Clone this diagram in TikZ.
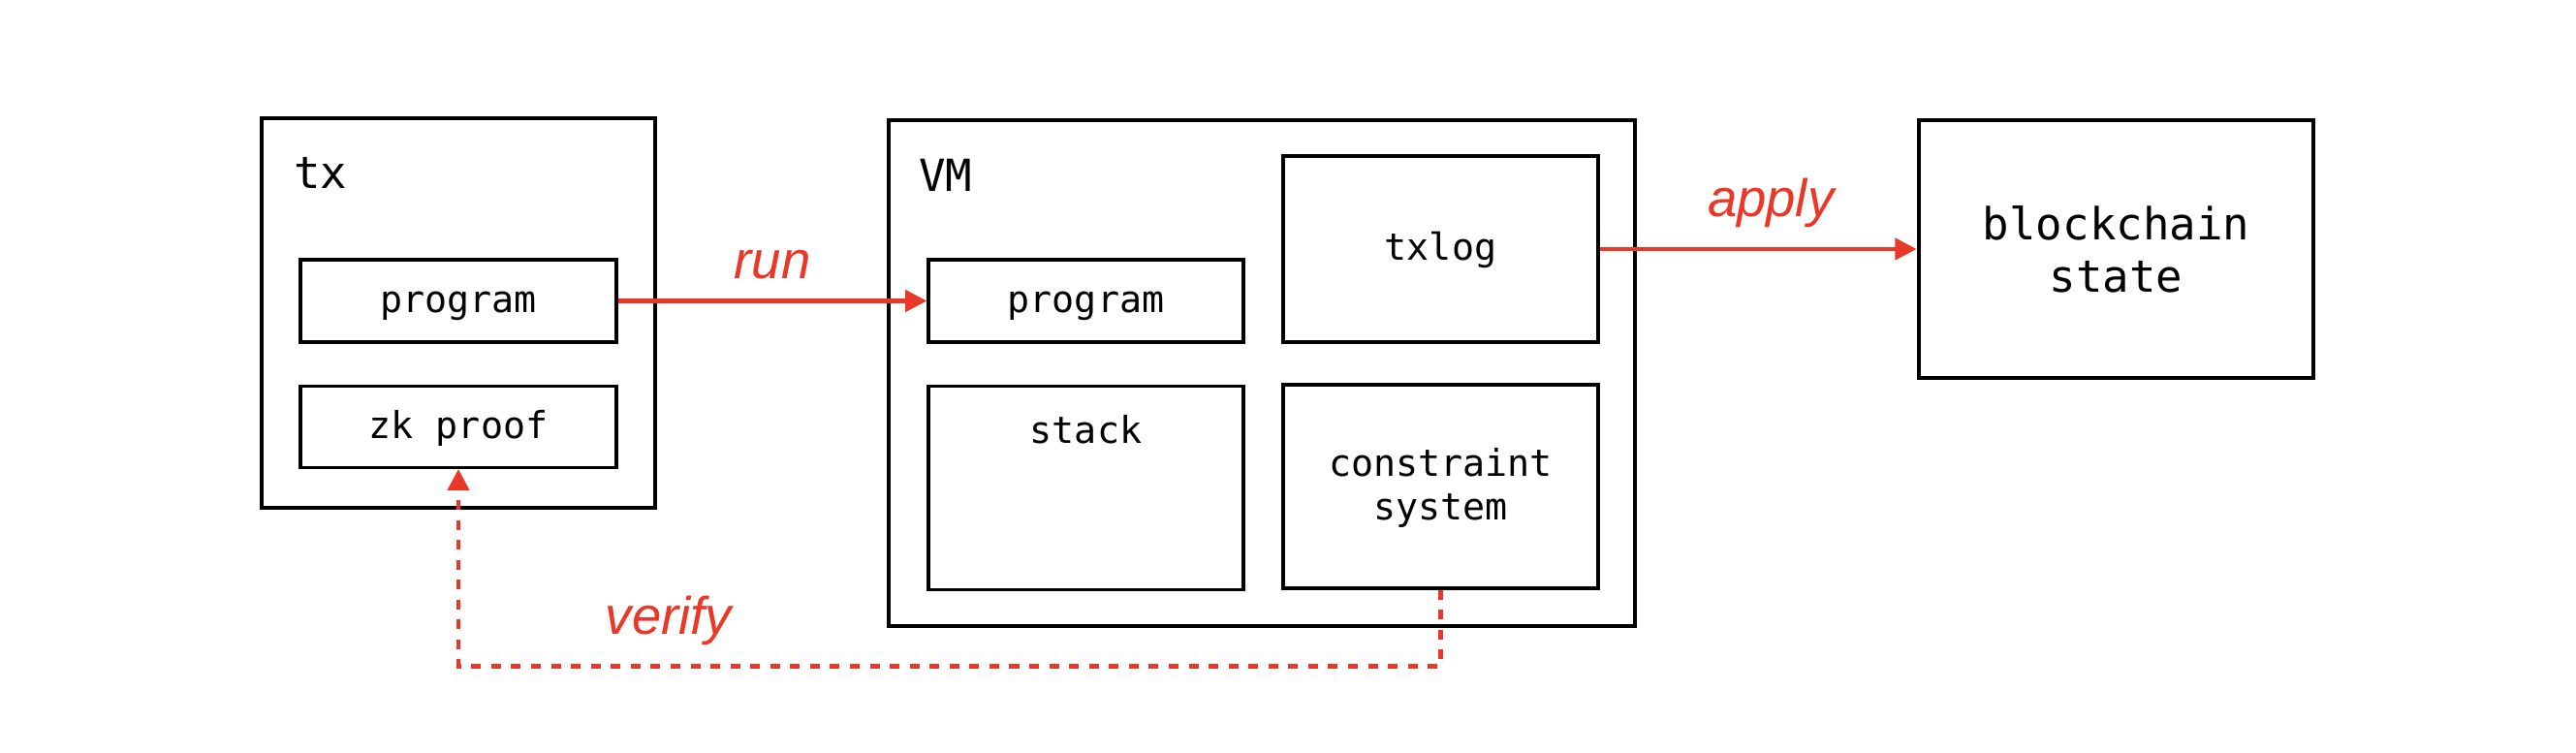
\documentclass[tikz,border=0pt]{standalone}
\usepackage{fontspec}
\setmainfont{Liberation Sans}
\setmonofont{DejaVu Sans Mono}
\usetikzlibrary{arrows.meta,positioning}
\definecolor{flowred}{RGB}{234,56,40}

\begin{document}
\begin{tikzpicture}[
    outer/.style={draw, line width=1.4pt, inner sep=0pt},
    inner/.style={draw, line width=0.95pt, inner sep=0pt, align=center,
      text height=0.86em, text depth=0.18em,
      font=\ttfamily\fontsize{10.9}{12.8}\selectfont},
    title/.style={inner sep=0pt, align=center,
      font=\ttfamily\fontsize{13}{15.3}\selectfont},
    flow/.style={draw=flowred, line width=1.15pt,
      -{Triangle[length=6.3pt, width=6.3pt]}},
    flowlabel/.style={inner sep=0pt, text=flowred,
      font=\itshape\fontsize{15.5}{18}\selectfont}
  ]

   \useasboundingbox (0,0) rectangle (26.58,7.76);

   % outer boxes
   \node[outer, minimum width=4.06cm, minimum height=4.02cm] (tx) at (4.73,4.53) {};
   \node[outer, minimum width=7.70cm, minimum height=5.22cm] (vm) at (13.02,3.91) {};
   \node[outer, title, minimum width=4.07cm, minimum height=2.66cm] (chain) at (21.835,5.19) {blockchain\\state};

   \node[title, anchor=west] (tx_title) at ([xshift=0.35cm, yshift=-0.59cm]tx.north west) {tx};
   \node[title, anchor=west] (vm_title) at ([xshift=0.33cm, yshift=-0.59cm]vm.north west) {VM};

   % inner boxes
   \node[inner, minimum width=3.26cm, minimum height=0.85cm] (tx_program) at (4.73,4.655) {program};
   \node[inner, minimum width=3.26cm, minimum height=0.84cm] (zk_proof) [below=0.42cm of tx_program] {zk proof};

   \node[inner, minimum width=3.25cm, minimum height=0.85cm] (vm_program) at (11.205,4.655) {program};
   \node[inner, minimum width=3.25cm, minimum height=1.92cm] (txlog) at (14.865,5.19) {txlog};
   \node[inner, minimum width=3.25cm, minimum height=2.10cm] (stack) [below=0.42cm of vm_program] {};
   \node[inner, draw=none] (stack_title) at ([yshift=-0.485cm]stack.north) {stack};
   \node[inner, text height=0.86em+12.8pt, minimum width=3.25cm, minimum height=2.10cm] (constraints) at (14.865,2.74) {constraint\\system};

   \coordinate (verify_bend) at ([yshift=-0.79cm]constraints.south);

   % flows
   \draw[flow] (tx_program) -- node[flowlabel, above=0.2cm] {run} (vm_program);
   \draw[flow] (txlog) -- node[flowlabel, above=0.2cm, pos=0.54] {apply} (chain);
   \draw[flow, dash pattern=on 2.85pt off 3pt, line width=1.3pt] (constraints.south) -- (verify_bend)
      -| node[flowlabel, above=0.2cm, pos=0.393] {verify} (zk_proof.south);

\end{tikzpicture}
\end{document}
